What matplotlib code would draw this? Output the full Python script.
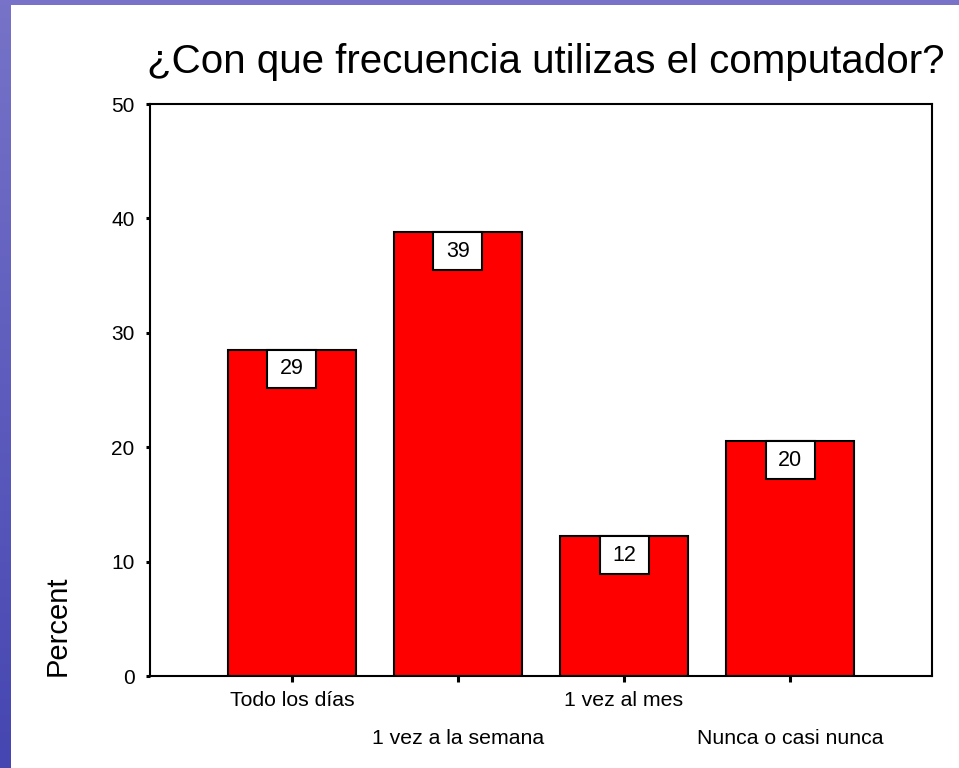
import matplotlib
matplotlib.use("Agg")
import matplotlib.pyplot as plt
import numpy as np
from matplotlib.patches import Rectangle

categories = ["Todo los días", "1 vez a la semana", "1 vez al mes", "Nunca o casi nunca"]
values = [28.5, 38.8, 12.2, 20.5]
value_labels = ["29", "39", "12", "20"]
yticks = [0, 10, 20, 30, 40, 50]
title = "¿Con que frecuencia utilizas el computador?"
ylabel = "Percent"

plt.rcParams['font.family'] = ['Liberation Sans', 'DejaVu Sans']

W, H = 959, 768
fig = plt.figure(figsize=(W / 100, H / 100), dpi=100)
fig.patch.set_facecolor("white")

# decorative blue strips (left and top)
grad = np.linspace(0, 1, 256)[:, None]
top_c = np.array([118, 115, 200]) / 255
bot_c = np.array([70, 70, 178]) / 255
img = (top_c[None, None, :] * (1 - grad[:, :, None]) + bot_c[None, None, :] * grad[:, :, None])
strip = fig.add_axes([0, 0, 11 / W, 1])
strip.imshow(img, aspect="auto", extent=[0, 1, 0, 1])
strip.axis("off")
topstrip = fig.add_axes([0, 1 - 5 / H, 1, 5 / H])
topstrip.set_facecolor((120 / 255, 115 / 255, 200 / 255))
topstrip.set_xticks([]); topstrip.set_yticks([])
for s in topstrip.spines.values():
    s.set_visible(False)

ax = fig.add_axes([150 / W, 1 - 676 / H, (932 - 150) / W, (676 - 104) / H])
x = np.arange(len(categories))
ax.bar(x, values, width=0.771, color="#ff0000", edgecolor="black", linewidth=1.5, zorder=2)
ax.set_xlim(-0.855, 3.855)
ax.set_ylim(0, 50)

for xi, v, lab in zip(x, values, value_labels):
    bw, bh = 0.295, 3.32
    ax.add_patch(Rectangle((xi - bw / 2, v - bh), bw, bh, facecolor="white",
                           edgecolor="black", linewidth=1.5, zorder=3))
    ax.text(xi, v - bh / 2, lab, ha="center", va="center", fontsize=15.5, zorder=4)

for s in ax.spines.values():
    s.set_linewidth(1.5)

ax.set_yticks(yticks)
ax.set_yticklabels([str(t) for t in yticks], fontsize=15)
ax.tick_params(axis="y", direction="out", length=3, width=2.2, pad=8)
ax.set_xticks(x)
ax.set_xticklabels(categories, fontsize=15.3)
ax.tick_params(axis="x", direction="out", length=4, width=2.2, pad=7)
for i, t in enumerate(ax.xaxis.get_major_ticks()):
    if i % 2 == 1:
        t.set_pad(34)

fig.text(58 / W, 1 - 626 / H, ylabel, rotation=90,
         ha="center", va="center", fontsize=21)
fig.text(546 / W, 1 - 62 / H, title, ha="center", va="center", fontsize=29)

fig.savefig("out.png", dpi=100, facecolor="white")
